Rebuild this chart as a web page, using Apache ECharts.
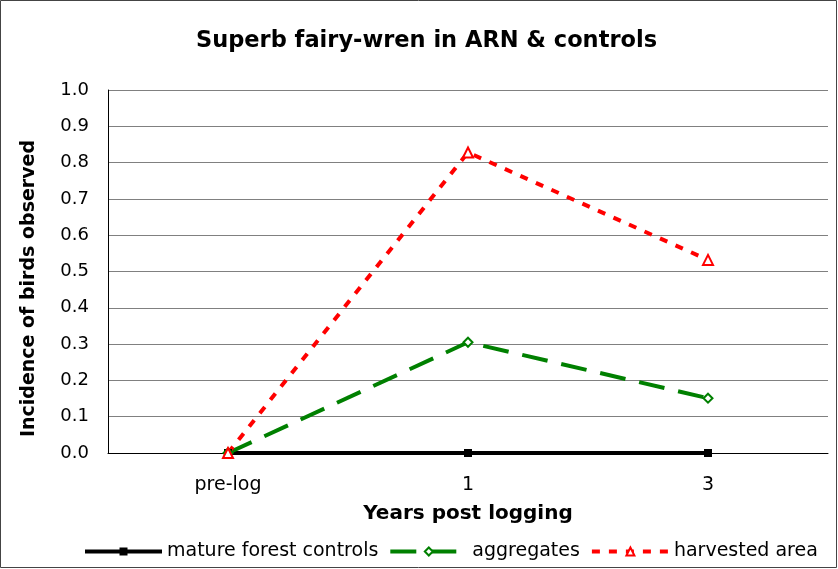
<!DOCTYPE html>
<html>
<head>
<meta charset="utf-8">
<script src="https://cdn.jsdelivr.net/npm/echarts@6/dist/echarts.min.js"></script>
<style>
  html, body { margin: 0; padding: 0; background: #fff; }
  #chart { width: 838px; height: 569px; }
</style>
</head>
<body>
<div id="chart"></div>
<script>
const categories = ['pre-log', '1', '3'];
const matureForest = [0, 0, 0];
const aggregates = [0, 0.305, 0.151];
const harvested = [0, 0.828, 0.532];

const font = 'DejaVu Sans, Liberation Sans, Arial, sans-serif';
const chart = echarts.init(document.getElementById('chart'));

chart.setOption({
  backgroundColor: '#fff',
  animation: false,
  title: {
    text: 'Superb fairy-wren in ARN & controls',
    left: 191,
    top: 25,
    textStyle: { fontFamily: font, fontSize: 22.5, fontWeight: 'bold', color: '#000' }
  },
  graphic: [{
    type: 'rect',
    shape: { x: 0.5, y: 0.5, width: 836, height: 567 },
    style: { fill: 'none', stroke: '#444', lineWidth: 1 },
    silent: true
  }],
  legend: {
    bottom: 8,
    left: 83,
    padding: 0,
    itemWidth: 77,
    itemHeight: 10,
    itemGap: 10,
    lineStyle: { width: 4 },
    textStyle: { fontFamily: font, fontSize: 19, color: '#000' },
    data: ['mature forest controls', 'aggregates', 'harvested area']
  },
  grid: { left: 108, right: 10, top: 90, bottom: 116 },
  xAxis: {
    type: 'category',
    data: categories,
    boundaryGap: true,
    name: 'Years post logging',
    nameLocation: 'middle',
    nameGap: 51,
    nameTextStyle: { fontFamily: font, fontSize: 20, fontWeight: 'bold', color: '#000' },
    axisLine: { lineStyle: { color: '#000', width: 1 } },
    axisTick: { inside: true, length: 5, lineStyle: { color: '#000' } },
    axisLabel: { fontFamily: font, fontSize: 19, color: '#000', margin: 23 }
  },
  yAxis: {
    type: 'value',
    min: 0,
    max: 1,
    interval: 0.1,
    name: 'Incidence of birds observed',
    nameLocation: 'middle',
    nameGap: 69,
    nameTextStyle: { fontFamily: font, fontSize: 19, fontWeight: 'bold', color: '#000', padding: [0, 34, 0, 0] },
    axisLine: { show: true, lineStyle: { color: '#000', width: 1 } },
    axisTick: { show: false },
    axisLabel: { fontFamily: font, fontSize: 18, color: '#000', margin: 19, formatter: v => v.toFixed(1) },
    splitLine: { lineStyle: { color: '#808080', width: 1 } }
  },
  series: [
    {
      name: 'mature forest controls',
      type: 'line',
      data: matureForest,
      symbol: 'rect',
      symbolSize: 8,
      itemStyle: { color: '#000' },
      lineStyle: { color: '#000', width: 4 }
    },
    {
      name: 'aggregates',
      type: 'line',
      data: aggregates,
      symbol: 'emptyDiamond',
      symbolSize: 9,
      itemStyle: { color: '#008000', borderWidth: 2 },
      lineStyle: { color: '#008000', width: 4, type: [26, 14] }
    },
    {
      name: 'harvested area',
      type: 'line',
      data: harvested,
      symbol: 'emptyTriangle',
      symbolSize: 10,
      itemStyle: { color: '#ff0000', borderWidth: 2 },
      lineStyle: { color: '#ff0000', width: 4, type: [8, 9] }
    }
  ]
});
</script>
</body>
</html>
